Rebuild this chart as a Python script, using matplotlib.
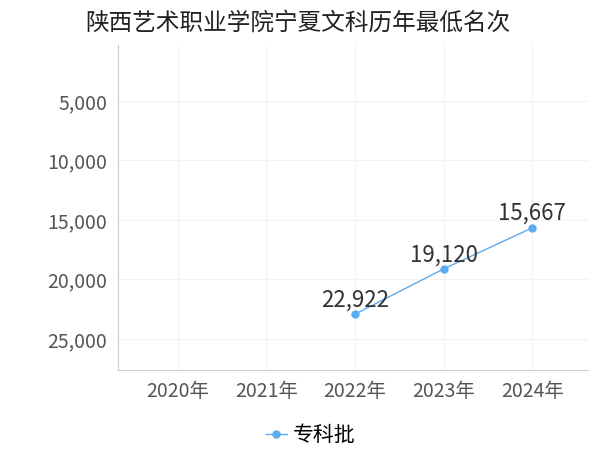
import matplotlib
matplotlib.use("Agg")
import matplotlib.pyplot as plt

plt.rcParams['font.family'] = ['Noto Sans CJK SC', 'DejaVu Sans']

years = ["2020年", "2021年", "2022年", "2023年", "2024年"]
series_x = [2, 3, 4]
series_vals = [22922, 19120, 15667]
yticks = [5000, 10000, 15000, 20000, 25000]

fig = plt.figure(figsize=(6, 4.5), dpi=100)
ax = fig.add_axes([0.197, 0.178, 0.783, 0.722])
c = '#5aabf0'
ax.plot(series_x, series_vals, color=c, lw=1, marker='o', ms=5, label='专科批')
for x, v in zip(series_x, series_vals):
    ax.annotate(f"{v:,}", (x, v), xytext=(0, 2), textcoords='offset points',
                ha='center', va='bottom', fontsize=16, color='#333333')
ax.set_xlim(-0.67, 4.63)
ax.set_ylim(27600, 300)
ax.set_xticks(range(len(years)))
ax.set_xticklabels(years)
ax.set_yticks(yticks)
ax.set_yticklabels([f"{t:,}" for t in yticks])
ax.tick_params(labelsize=14, colors='#555555', length=0, pad=8)
ax.grid(True, color='#f2f2f2', lw=0.8)
for s in ['top', 'right']:
    ax.spines[s].set_visible(False)
ax.spines['left'].set_color('#cccccc')
ax.spines['bottom'].set_color('#cccccc')
ax.set_title("陕西艺术职业学院宁夏文科历年最低名次", fontsize=17, loc='left', x=-0.07, y=1.02, color='#222222')
ax.legend(loc='upper center', bbox_to_anchor=(0.41, -0.11), frameon=False, fontsize=15, handlelength=1.0, handletextpad=0.3)
fig.savefig("out.png")
